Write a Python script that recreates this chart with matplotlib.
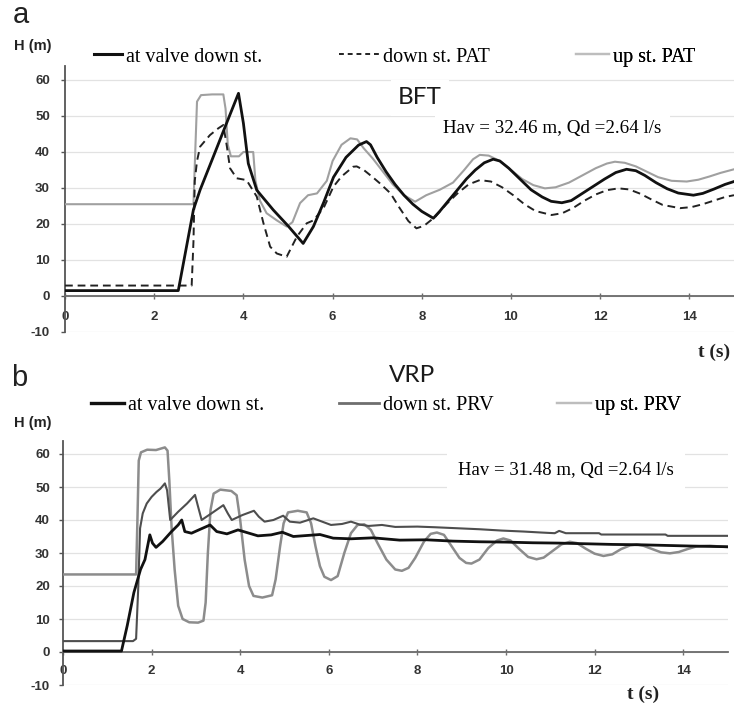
import matplotlib
matplotlib.use("Agg")
import matplotlib.pyplot as plt
from matplotlib.lines import Line2D

plt.rcParams["axes.unicode_minus"] = False

# ---------------- BFT: head traces ----------------
bft_valve_t = [0, 2.54, 2.88, 3.03, 3.3, 3.6, 3.89, 4.0, 4.11, 4.3, 4.67, 5.0, 5.34,
               5.57, 5.8, 6.02, 6.3, 6.58, 6.76, 6.85, 7.0, 7.2, 7.4, 7.6, 7.8, 8.0,
               8.26, 8.4, 8.6, 8.8, 9.0, 9.2, 9.4, 9.6, 9.75, 9.95, 10.2, 10.45, 10.7,
               10.9, 11.14, 11.35, 11.6, 11.85, 12.1, 12.35, 12.59, 12.8, 13.0, 13.25,
               13.5, 13.75, 14.09, 14.3, 14.55, 14.8, 15.0]
bft_valve_h = [1.5, 1.5, 24, 29.5, 37.9, 47.3, 56.3, 48, 36.8, 29.4, 23.9, 19.5, 14.6,
               19.3, 26, 33, 38.5, 41.9, 42.9, 42, 38.5, 34.5, 31, 28, 25.5, 23.5,
               21.6, 23.5, 26.5, 29.5, 32.5, 35, 37, 38, 37.5, 35.5, 32.5, 29.5, 27.5,
               26.3, 25.9, 26.5, 28.5, 30.5, 32.5, 34.3, 35.2, 34.8, 33.5, 31.5,
               29.8, 28.6, 28, 28.5, 29.7, 31, 31.8]

bft_down_t = [0, 2.84, 2.88, 2.91, 2.96, 3.03, 3.25, 3.44, 3.55, 3.63, 3.7, 3.85, 4.07,
              4.3, 4.45, 4.6, 4.75, 4.97, 5.2, 5.42, 5.57, 5.8, 6.02, 6.2, 6.46, 6.54,
              6.7, 6.9, 7.06, 7.3, 7.5, 7.7, 7.88, 8.05, 8.3, 8.55, 8.8, 9.05, 9.3,
              9.55, 9.8, 10.05, 10.3, 10.55, 10.91, 11.15, 11.4, 11.65, 11.9, 12.15,
              12.41, 12.65, 12.9, 13.15, 13.4, 13.79, 14.05, 14.3, 14.55, 14.8, 15.0]
bft_down_h = [2.9, 2.9, 15, 32, 37.5, 41.5, 44.7, 46.6, 47.5, 41.5, 35.5, 32.7, 32.2,
              27.6, 20.2, 13.7, 11.8, 10.9, 16.5, 20.2, 21, 24.5, 30.4, 33.2, 35.9, 36,
              35, 33, 31.3, 28.5, 24.5, 20.8, 18.8, 19.5, 22, 25.5, 28.5, 31, 32.2,
              31.8, 30.2, 28, 25.5, 23.6, 22.5, 23, 24.5, 26.5, 28.2, 29.4,
              29.9, 29.6, 28.4, 26.8, 25.3, 24.4, 24.7, 25.5, 26.5, 27.5, 28]

bft_up_t = [0, 2.88, 2.92, 2.96, 3.05, 3.3, 3.55, 3.6, 3.65, 3.72, 3.9, 4.0, 4.22,
            4.27, 4.37, 4.52, 4.75, 4.97, 5.1, 5.27, 5.45, 5.65, 5.87, 6.0, 6.2, 6.4,
            6.55, 6.7, 6.9, 7.1, 7.35, 7.6, 7.85, 8.1, 8.4, 8.7, 8.95, 9.15, 9.3,
            9.5, 9.75, 10.0, 10.25, 10.5, 10.76, 11.0, 11.3, 11.6, 11.9, 12.15, 12.33,
            12.55, 12.8, 13.05, 13.3, 13.6, 13.94, 14.2, 14.45, 14.7, 15.0]
bft_up_h = [25.5, 25.5, 40, 54, 55.8, 56, 56, 52, 42, 38.8, 38.8, 40, 40,
            32, 26.5, 23, 21, 19.3, 20.5, 25.8, 28, 28.5, 32, 37.5, 42, 43.8,
            43.5, 41, 38.2, 35, 31, 28, 26.2, 28, 29.5, 31.5, 35, 38, 39.2,
            39, 37.5, 35, 32.5, 30.8, 29.9, 30.2, 31.5, 33.5, 35.5, 36.8, 37.3,
            37, 36, 34.5, 33, 32, 31.8, 32.3, 33.2, 34.2, 35.2]

# ---------------- VRP: head traces ----------------
vrp_valve_t = [0, 1.32, 1.45, 1.6, 1.75, 1.85, 1.96, 2.02, 2.1, 2.25, 2.45, 2.6, 2.68,
               2.75, 2.9, 3.1, 3.32, 3.47, 3.7, 3.95, 4.15, 4.4, 4.7, 4.95, 5.2, 5.5,
               5.8, 6.1, 6.5, 7.0, 7.6, 8.2, 8.8, 9.4, 10.0, 10.6, 11.2, 11.8, 12.4,
               13.0, 13.6, 14.2, 15.0]
vrp_valve_h = [0.3, 0.3, 8, 18, 25, 28, 35.5, 33, 31.7, 33.5, 36.5, 38.5, 40,
               36.5, 36, 37.2, 38.5, 36.5, 35.8, 37, 36.2, 35.2, 35.5, 36.3, 35, 35.3,
               35.6, 34.5, 34.3, 34.6, 33.9, 34, 33.6, 33.4, 33.3, 33.1, 33, 32.8, 32.6,
               32.5, 32.3, 32.1, 31.9]

vrp_down_t = [0, 1.58, 1.65, 1.7, 1.74, 1.8, 1.89, 2.0, 2.11, 2.2, 2.3, 2.35, 2.42,
              2.6, 2.8, 2.98, 3.05, 3.13, 3.35, 3.62, 3.72, 3.81, 4.05, 4.31, 4.42,
              4.55, 4.75, 4.97, 5.12, 5.35, 5.65, 5.85, 6.05, 6.3, 6.5, 6.7, 6.9, 7.2,
              7.5, 8.0, 8.4, 8.9, 9.4, 9.9, 10.4, 10.8, 11.1, 11.2, 11.35, 11.8, 12.1,
              12.15, 13.6, 13.65, 15.0]
vrp_down_h = [3.3, 3.3, 4, 20, 37.5, 42, 45, 47, 48.5, 49.5, 51.1, 49, 40,
              42.5, 45, 47.6, 44, 40, 42, 44.5, 42, 40, 41.5, 42.8, 41,
              39.5, 40, 41.3, 39.5, 39.2, 40.5, 39.5, 38.5, 38.8, 39.5, 38.6, 38.2, 38.5,
              37.9, 38, 37.8, 37.5, 37.2, 36.8, 36.5, 36.2, 36, 36.7, 36, 36, 36,
              35.6, 35.6, 35.2, 35.2]

vrp_up_t = [0, 1.65, 1.68, 1.71, 1.76, 1.9, 2.1, 2.3, 2.36, 2.4, 2.45, 2.52, 2.6,
            2.7, 2.85, 3.05, 3.17, 3.22, 3.27, 3.33, 3.4, 3.55, 3.8, 3.92, 4.0, 4.1,
            4.2, 4.3, 4.5, 4.72, 4.8, 4.9, 4.98, 5.08, 5.3, 5.5, 5.6, 5.7, 5.8, 5.9,
            6.05, 6.2, 6.35, 6.5, 6.65, 6.8, 6.95, 7.1, 7.3, 7.5, 7.65, 7.8, 7.95,
            8.15, 8.3, 8.44, 8.6, 8.75, 8.95, 9.1, 9.22, 9.4, 9.6, 9.8, 9.94, 10.1,
            10.3, 10.5, 10.69, 10.85, 11.05, 11.25, 11.44, 11.6, 11.8, 12.0, 12.2,
            12.4, 12.6, 12.8, 12.95, 13.1, 13.3, 13.5, 13.7, 13.9, 14.1, 14.3, 14.6,
            15.0]
vrp_up_h = [23.5, 23.5, 40, 58, 60.5, 61.3, 61.2, 62, 61, 52, 38, 25, 14,
            10, 9, 8.9, 9.5, 15, 30, 43, 48, 49.2, 48.8, 47.5, 40, 28,
            20, 17, 16.5, 17.2, 22, 32, 39, 42.3, 42.8, 42.3, 39, 32, 26, 22.8,
            21.8, 23, 30, 36, 38.5, 38.7, 37, 33, 28, 25, 24.6, 25.5, 28.5,
            33.5, 35.8, 36.2, 35.5, 32.5, 28.5, 27, 26.8, 28, 31.5, 33.8, 34.4, 33.8,
            31.2, 28.8, 28.1, 28.6, 30.6, 32.6, 33.4, 33, 31.3, 29.8, 29.1,
            29.6, 31.2, 32.3, 32.6, 32.2, 31.2, 30.2, 29.9, 30.3, 31.2, 32, 32.2,
            31.8]

# ---------------- text ----------------
bft_labels = ["at valve down st.", "down st. PAT", "up st. PAT"]
vrp_labels = ["at valve down st.", "down st. PRV", "up st. PRV"]
bft_note = "Hav = 32.46 m, Qd =2.64 l/s"
vrp_note = "Hav = 31.48 m, Qd =2.64 l/s"
y_ticks = [-10, 0, 10, 20, 30, 40, 50, 60]
x_ticks = [0, 2, 4, 6, 8, 10, 12, 14]

W, H = 734, 706
SERIF = "Liberation Serif"
SANS = "Liberation Sans"
LEG_SIZE = 14.5
LEG_PX = LEG_SIZE * 100 / 72


def fx(px):
    return px / W


def fy(py):
    return 1 - py / H


fig = plt.figure(figsize=(W / 100, H / 100), dpi=100)
fig.patch.set_facecolor("white")


def style_axes(ax, xlab_pad, ylab_pad):
    ax.set_xlim(0, 15)
    ax.set_ylim(-10, 64)
    ax.set_yticks(y_ticks)
    ax.set_xticks(x_ticks)
    ax.set_yticklabels([str(v) for v in y_ticks])
    ax.set_xticklabels([str(v) for v in x_ticks])
    for side in ("top", "right"):
        ax.spines[side].set_visible(False)
    ax.spines["bottom"].set_position(("data", 0))
    ax.spines["bottom"].set_color("#6a6a6a")
    ax.spines["bottom"].set_linewidth(1.3)
    ax.spines["left"].set_color("#555555")
    ax.spines["left"].set_linewidth(1.3)
    ax.yaxis.grid(True, color="#e2e2e2", linewidth=0.9)
    ax.set_axisbelow(True)
    ax.tick_params(axis="y", direction="out", length=3, width=1, color="#555555",
                   pad=ylab_pad, labelsize=9.5, labelcolor="#333333")
    ax.tick_params(axis="x", direction="inout", length=5, width=1, color="#6a6a6a",
                   pad=xlab_pad, labelsize=9.5, labelcolor="#333333")
    for lab in ax.get_xticklabels() + ax.get_yticklabels():
        lab.set_fontfamily(SANS)
        lab.set_fontweight("bold")
    ax.patch.set_alpha(0)


def add_entry(ax, handle, label, x_px, y_px, len_px):
    leg = ax.legend(handles=[handle], labels=[label], loc="center left",
                    bbox_to_anchor=(fx(x_px), fy(y_px)), bbox_transform=fig.transFigure,
                    frameon=False, handlelength=len_px / LEG_PX, handletextpad=0.2,
                    borderpad=0, borderaxespad=0,
                    prop={"family": SERIF, "size": LEG_SIZE})
    ax.add_artist(leg)


# ---------------- panel a: BFT ----------------
ax1 = fig.add_axes([fx(65), fy(332), fx(734) - fx(65), fy(65.6) - fy(332)])
style_axes(ax1, xlab_pad=8.5, ylab_pad=7.8)
c_valve, c_down_a, c_up_a = "#111111", "#222222", "#a0a0a0"
ax1.plot(bft_up_t, bft_up_h, color=c_up_a, lw=1.5, zorder=3)
ax1.plot(bft_down_t, bft_down_h, color=c_down_a, lw=1.4, ls=(0, (4, 2.5)), zorder=4)
ax1.plot(bft_valve_t, bft_valve_h, color=c_valve, lw=2.0, zorder=5)

add_entry(ax1, Line2D([], [], color=c_valve, lw=2.2), bft_labels[0], 94, 57, 28)
add_entry(ax1, Line2D([], [], color=c_down_a, lw=1.4, ls=(0, (2.5, 2))), bft_labels[1], 339, 57, 40)
add_entry(ax1, Line2D([], [], color="#bdbdbd", lw=1.6), bft_labels[2], 576, 57, 33)

fig.text(fx(443), fy(128), bft_note, family=SERIF, fontsize=13.7, va="center", ha="left",
         bbox=dict(facecolor="white", edgecolor="none", pad=6), zorder=6)
fig.text(fx(398), fy(98), "BFT", family="Lato", fontsize=17.5, va="center", ha="left",
         color="#1a1a1a", bbox=dict(facecolor="white", edgecolor="none", pad=5), zorder=6)

# ---------------- panel b: VRP ----------------
ax2 = fig.add_axes([fx(63), fy(685), fx(727.5) - fx(63), fy(440.8) - fy(685)])
style_axes(ax2, xlab_pad=7, ylab_pad=6.4)
c_down_b, c_up_b = "#4e4e4e", "#8c8c8c"
ax2.plot(vrp_up_t, vrp_up_h, color=c_up_b, lw=1.8, zorder=3)
ax2.plot(vrp_down_t, vrp_down_h, color=c_down_b, lw=1.5, zorder=4)
ax2.plot(vrp_valve_t, vrp_valve_h, color=c_valve, lw=2.0, zorder=5)

add_entry(ax2, Line2D([], [], color=c_valve, lw=2.4), vrp_labels[0], 91, 405, 33)
add_entry(ax2, Line2D([], [], color="#6e6e6e", lw=2.0), vrp_labels[1], 339, 405, 40)
add_entry(ax2, Line2D([], [], color="#bdbdbd", lw=1.6), vrp_labels[2], 557, 405, 34)

fig.text(fx(458), fy(471), vrp_note, family=SERIF, fontsize=13.5, va="center", ha="left",
         bbox=dict(facecolor="white", edgecolor="none", pad=8), zorder=6)
fig.text(fx(389), fy(376), "VRP", family="Lato", fontsize=17.5, va="center", ha="left",
         color="#1a1a1a")

# ---------------- panel letters and axis titles ----------------
fig.text(fx(13), fy(23), "a", family=SANS, fontsize=21, va="baseline", ha="left", color="#222222")
fig.text(fx(11), fy(386), "b", family=SANS, fontsize=21, va="baseline", ha="left", color="#222222")
fig.text(fx(14), fy(46), "H (m)", family=SANS, fontsize=10.5, fontweight="bold",
         va="center", ha="left", color="#222222")
fig.text(fx(14), fy(423), "H (m)", family=SANS, fontsize=10.5, fontweight="bold",
         va="center", ha="left", color="#222222")
fig.text(fx(698), fy(357), "t (s)", family=SERIF, fontsize=14, fontweight="bold",
         va="baseline", ha="left", color="#222222")
fig.text(fx(627), fy(699), "t (s)", family=SERIF, fontsize=14, fontweight="bold",
         va="baseline", ha="left", color="#222222")

fig.savefig("out.png", dpi=100, facecolor="white")
